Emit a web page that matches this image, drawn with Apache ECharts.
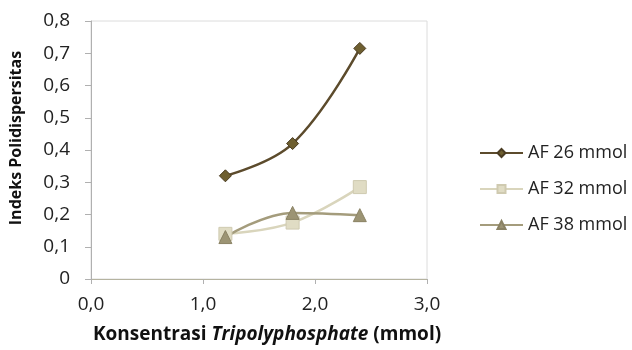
<!DOCTYPE html>
<html><head><meta charset="utf-8">
<script src="https://cdn.jsdelivr.net/npm/echarts@6/dist/echarts.min.js"></script>
<style>html,body{margin:0;padding:0;background:#fff}#c{width:632px;height:350px}</style>
</head><body><div id="c"></div>
<script>
const xValues = [1.2, 1.8, 2.4];
const af26 = [0.32, 0.42, 0.715];
const af32 = [0.14, 0.175, 0.285];
const af38 = [0.13, 0.205, 0.198];
const seriesNames = ['AF 26 mmol', 'AF 32 mmol', 'AF 38 mmol'];
const yTicks = [0, 0.1, 0.2, 0.3, 0.4, 0.5, 0.6, 0.7, 0.8];
const xTicks = [0, 1, 2, 3];

const font = '"Open Sans", sans-serif';
const pair = (ys) => xValues.map((x, i) => [x, ys[i]]);
const chart = echarts.init(document.getElementById('c'));
chart.setOption({
  animation: false,
  backgroundColor: '#fff',
  grid: { left: 84, right: 205, top: 21, bottom: 71, show: true, borderColor: '#dcdcdc', borderWidth: 1 },
  xAxis: {
    type: 'value', min: 0, max: 3, interval: 1,
    axisLine: { show: true, lineStyle: { color: '#b5b3a0' } },
    axisTick: { show: true, length: 5, lineStyle: { color: '#b0b0b0' } },
    splitLine: { show: false },
    axisLabel: { fontFamily: font, fontSize: 19, color: '#222', margin: 16, formatter: v => v.toFixed(1).replace('.', ',') },
    name: '{a|Konsentrasi }{b|Tripolyphosphate}{a| (mmol)}',
    nameLocation: 'middle', nameGap: 46,
    nameTextStyle: { padding: [0, 0, 0, 16], rich: {
      a: { fontFamily: font, fontSize: 19, fontWeight: 'bold', color: '#111' },
      b: { fontFamily: font, fontSize: 19, fontWeight: 'bold', fontStyle: 'italic', color: '#111' }
    } }
  },
  yAxis: {
    type: 'value', min: 0, max: 0.8, interval: 0.1,
    axisLine: { show: true, lineStyle: { color: '#b0b0b0' } },
    axisTick: { show: true, length: 6, lineStyle: { color: '#b0b0b0' } },
    splitLine: { show: false },
    axisLabel: { fontFamily: font, fontSize: 19, color: '#222', margin: 21, formatter: v => v === 0 ? '0' : v.toFixed(1).replace('.', ',') },
    name: 'Indeks Polidispersitas', nameLocation: 'middle', nameGap: 67, nameRotate: 90,
    nameTextStyle: { fontFamily: font, fontSize: 16, fontWeight: 'bold', color: '#111', padding: [0, 0, 0, 24] }
  },
  legend: {
    orient: 'vertical', left: 474, top: 139, itemGap: 18, itemWidth: 43, itemHeight: 10,
    textStyle: { fontFamily: font, fontSize: 18, color: '#222' },
    data: seriesNames
  },
  series: [
    { name: seriesNames[0], type: 'line', smooth: 0.4, data: pair(af26), symbol: 'diamond', symbolSize: 12,
      lineStyle: { color: '#5c4b2c', width: 2.5 }, itemStyle: { color: '#6e5f30', borderColor: '#4a3c22', borderWidth: 1 } },
    { name: seriesNames[1], type: 'line', smooth: 0.4, data: pair(af32), symbol: 'rect', symbolSize: 13,
      lineStyle: { color: '#d9d5bc', width: 2.5 }, itemStyle: { color: '#e0dcc4', borderColor: '#cfcab0', borderWidth: 1 } },
    { name: seriesNames[2], type: 'line', smooth: 0.4, data: pair(af38), symbol: 'triangle', symbolSize: 13,
      lineStyle: { color: '#a49c7c', width: 2.5 }, itemStyle: { color: '#9c9474', borderColor: '#8a8264', borderWidth: 1 } }
  ]
});
</script></body></html>
